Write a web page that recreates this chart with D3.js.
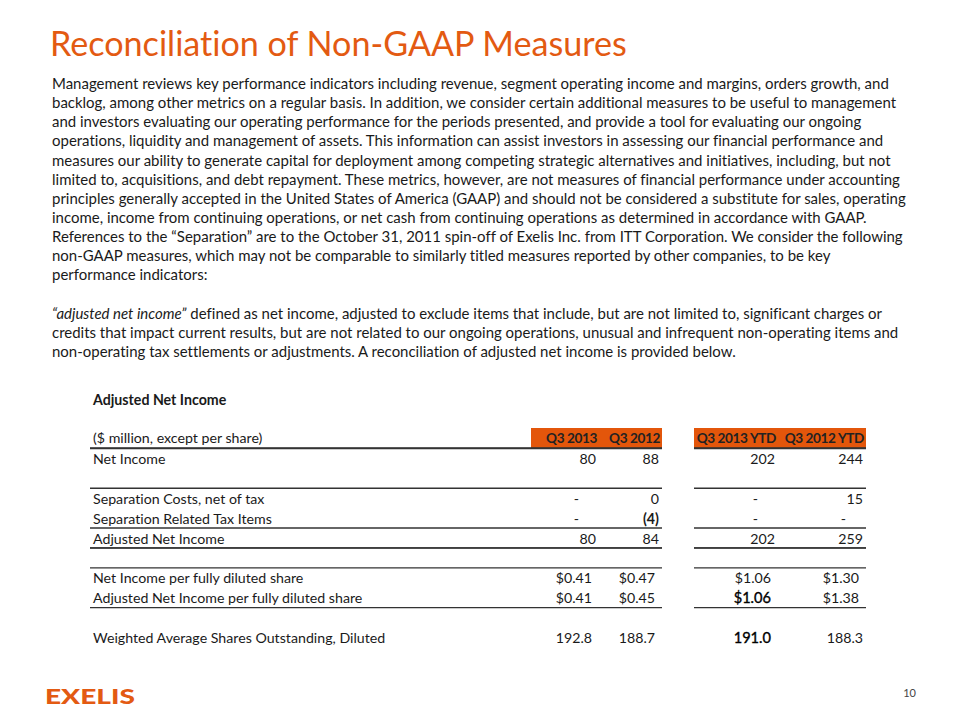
<!DOCTYPE html>
<html><head><meta charset="utf-8">
<script src="https://cdn.jsdelivr.net/npm/d3@7"></script>
<style>body{margin:0;background:#fff}svg{display:block}text{font-variant-ligatures:none;font-feature-settings:"liga" 0,"clig" 0}</style>
</head><body>
<script>
// ---- data ----
const titleText = "Reconciliation of Non-GAAP Measures";
const paraLines = [
  "Management reviews key performance indicators including revenue, segment operating income and margins, orders growth, and",
  "backlog, among other metrics on a regular basis. In addition, we consider certain additional measures to be useful to management",
  "and investors evaluating our operating performance for the periods presented, and provide a tool for evaluating our ongoing",
  "operations, liquidity and management of assets. This information can assist investors in assessing our financial performance and",
  "measures our ability to generate capital for deployment among competing strategic alternatives and initiatives, including, but not",
  "limited to, acquisitions, and debt repayment. These metrics, however, are not measures of financial performance under accounting",
  "principles generally accepted in the United States of America (GAAP) and should not be considered a substitute for sales, operating",
  "income, income from continuing operations, or net cash from continuing operations as determined in accordance with GAAP.",
  "References to the \u201cSeparation\u201d are to the October 31, 2011 spin-off of Exelis Inc. from ITT Corporation. We consider the following",
  "non-GAAP measures, which may not be comparable to similarly titled measures reported by other companies, to be key",
  "performance indicators:",
  "",
  "|\u201cadjusted net income\u201d| defined as net income, adjusted to exclude items that include, but are not limited to, significant charges or",
  "credits that impact current results, but are not related to our ongoing operations, unusual and infrequent non-operating items and",
  "non-operating tax settlements or adjustments. A reconciliation of adjusted net income is provided below."
];
const tableTitle = "Adjusted Net Income";
const unitLabel = "($ million, except per share)";
const columns = ["Q3 2013", "Q3 2012", "Q3 2013 YTD", "Q3 2012 YTD"];
const rowLabels = ["Net Income", "", "Separation Costs, net of tax", "Separation Related Tax Items",
  "Adjusted Net Income", "", "Net Income per fully diluted share", "Adjusted Net Income per fully diluted share",
  "", "Weighted Average Shares Outstanding, Diluted"];
const q3_2013 = ["80", "", "-", "-", "80", "", "$0.41", "$0.41", "", "192.8"];
const q3_2012 = ["88", "", "0", "(4)", "84", "", "$0.47", "$0.45", "", "188.7"];
const ytd_2013 = ["202", "", "-", "-", "202", "", "$1.06", "$1.06", "", "191.0"];
const ytd_2012 = ["244", "", "15", "-", "259", "", "$1.30", "$1.38", "", "188.3"];
const ruleAboveRows = [0, 2, 5, 6]; // top rules
const ruleBelowRows = [3, 4, 7];
const pageNumber = "10";
const logoText = "EXELIS";

// ---- drawing ----
const W = 960, H = 720;
const ORANGE = "#E35A12", HEAD = "#E3560B", TXT = "#1a1a1a";
const FONT = "Lato, 'Open Sans', sans-serif";
const svg = d3.select("body").append("svg").attr("width", W).attr("height", H);

function fitSize(text, weight, style, target, base) {
  const t = svg.append("text").attr("font-family", FONT).attr("font-size", base)
    .attr("font-weight", weight).attr("font-style", style).text(text);
  const w = t.node().getComputedTextLength();
  t.remove();
  return base * target / w;
}

// title
const tSize = fitSize(titleText, 400, "normal", 577, 36);
svg.append("text").attr("x", 50).attr("y", 56).attr("font-family", FONT)
  .attr("font-size", tSize).attr("fill", ORANGE).text(titleText);

// paragraph
const pSize = fitSize(paraLines[5], 400, "normal", 849, 15);
const py = d3.scaleLinear().domain([0, paraLines.length - 1]).range([89, 357]);
paraLines.forEach((line, i) => {
  if (!line) return;
  const t = svg.append("text").attr("x", 52).attr("y", py(i)).attr("font-family", FONT)
    .attr("font-size", pSize).attr("fill", TXT);
  const parts = line.split("|");
  parts.forEach((p, k) => {
    if (!p) return;
    t.append("tspan").attr("font-style", k % 2 === 1 ? "italic" : "normal").text(p);
  });
});

// table
const tblSize = 14.2;
svg.append("text").attr("x", 93).attr("y", 405).attr("font-family", FONT)
  .attr("font-size", tblSize).attr("font-weight", 700).attr("fill", TXT).text(tableTitle);

const colRight = d3.scaleOrdinal().domain(columns).range([596, 659, 775, 863]);
const groups = [{x0: 531, x1: 662, rx0: 90}, {x0: 694, x1: 866, rx0: 694}];
const headY = 438;
const ry = d3.scaleLinear().domain([0, 1]).range([459, 478.9]);

groups.forEach(g => {
  svg.append("rect").attr("x", g.x0).attr("y", 428).attr("width", g.x1 - g.x0).attr("height", 20).attr("fill", HEAD);
});
svg.append("text").attr("x", 93).attr("y", headY + 5).attr("font-family", FONT)
  .attr("font-size", tblSize).attr("fill", TXT).text(unitLabel);
columns.forEach(c => {
  svg.append("text").attr("x", colRight(c) + 1).attr("y", headY + 5).attr("text-anchor", "end")
    .attr("font-family", FONT).attr("font-size", tblSize - 0.6).attr("font-weight", 700)
    .attr("letter-spacing", -0.4).attr("fill", "#222").text(c);
});

function hrule(y) {
  groups.forEach(g => {
    svg.append("line").attr("x1", g.rx0).attr("x2", g.x1).attr("y1", y).attr("y2", y)
      .attr("stroke", "#333").attr("stroke-width", 1.4);
  });
}
hrule(448);
ruleAboveRows.forEach(r => hrule(ry(r) - 10.5));
ruleBelowRows.forEach(r => hrule(ry(r) + 9.3));

const colData = [q3_2013, q3_2012, ytd_2013, ytd_2012];
rowLabels.forEach((lab, r) => {
  if (!lab) return;
  const y = ry(r) + 5;
  svg.append("text").attr("x", 93).attr("y", y).attr("font-family", FONT)
    .attr("font-size", tblSize).attr("fill", TXT).text(lab);
  colData.forEach((arr, c) => {
    const v = arr[r];
    if (!v) return;
    let x = colRight(columns[c]);
    if (v === "-") x -= 17;
    else if (v.startsWith("$") || r === 9) x -= (c === 3 && r === 9) ? 0 : 4;
    const bold = v === "(4)";
    const dark = (c === 2 && (r === 7 || r === 9));
    svg.append("text").attr("x", x).attr("y", y).attr("text-anchor", "end")
      .attr("font-family", FONT).attr("font-size", dark ? tblSize + 0.4 : tblSize)
      .attr("font-weight", bold ? 700 : 400)
      .attr("stroke", dark ? "#000" : null).attr("stroke-width", dark ? 0.35 : null)
      .attr("fill", dark ? "#000" : TXT).text(v);
  });
});

// footer
svg.append("text").attr("x", 45).attr("y", 704).attr("font-family", FONT)
  .attr("font-size", 21).attr("font-weight", 900).attr("fill", ORANGE)
  .attr("textLength", 90).attr("lengthAdjust", "spacingAndGlyphs").text(logoText);
svg.append("text").attr("x", 916).attr("y", 697).attr("text-anchor", "end").attr("font-family", FONT)
  .attr("font-size", 11).attr("fill", "#444").text(pageNumber);
</script>
</body></html>
